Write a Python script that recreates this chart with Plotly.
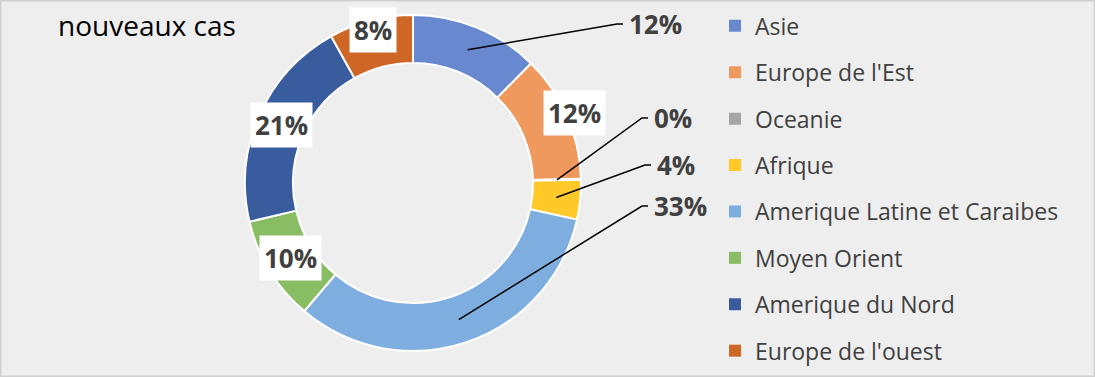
import math
import plotly.graph_objects as go

# ---- data ----
regions = ["Asie", "Europe de l'Est", "Oceanie", "Afrique",
           "Amerique Latine et Caraibes", "Moyen Orient",
           "Amerique du Nord", "Europe de l'ouest"]
shares = [12.4, 12.2, 0.1, 3.8, 32.7, 10.1, 20.6, 8.1]
title_text = "nouveaux cas"

# ---- style ----
colors = ["#6889CF", "#F0995E", "#A5A5A5", "#FFC929",
          "#7DAEDF", "#88BD63", "#395C9E", "#CE6726"]
W, H = 1095, 377
CX, CY, R_OUT, R_IN = 413, 183, 168, 120
label_color = "#404040"
# label placement style: ("in", radius factor) = white box on the ring,
# ("out", (text left px, text middle px)) = callout with leader line
label_style = [
    ("out", (628, 24)),
    ("in", 1.22),
    ("out", (653, 118)),
    ("out", (656, 165)),
    ("out", (653, 206)),
    ("in", 1.0),
    ("in", 1.0),
    ("in", 1.1),
]

fig = go.Figure()
fig.add_trace(go.Pie(
    labels=regions, values=shares, sort=False, direction="clockwise",
    rotation=0, hole=R_IN / R_OUT, textinfo="none", hoverinfo="label+percent",
    marker=dict(colors=colors, line=dict(color="white", width=2)),
    domain=dict(x=[(CX - R_OUT) / W, (CX + R_OUT) / W],
                y=[1 - (CY + R_OUT) / H, 1 - (CY - R_OUT) / H]),
    showlegend=False,
))

# legend entries (split over two legend boxes so the column is not squeezed)
for i, (name, c) in enumerate(zip(regions, colors)):
    fig.add_trace(go.Scatter(
        x=[None], y=[None], mode="markers", name=name, legendgroup=name,
        legend="legend" if i < 4 else "legend2",
        marker=dict(symbol="square", size=12, color=c),
    ))

# data labels computed from slice angles
total = sum(shares)
cum = 0.0
r_mid = (R_OUT + R_IN) / 2
annotations = []
shapes = [dict(type="rect", xref="paper", yref="paper", x0=0, y0=0, x1=1, y1=1,
               line=dict(color="#d0d0d0", width=3), fillcolor="rgba(0,0,0,0)")]
for v, (kind, param) in zip(shares, label_style):
    mid = (cum + v / 2) / total * 2 * math.pi
    cum += v
    pct = f"{int(v / total * 100 + 0.5)}%"
    if kind == "in":
        r = r_mid * param
        px = CX + r * math.sin(mid)
        py = CY - r * math.cos(mid)
        annotations.append(dict(
            x=px / W, y=1 - py / H, xref="paper", yref="paper",
            xanchor="center", yanchor="middle", text=f"<b>{pct}</b>",
            showarrow=False, bgcolor="white", borderpad=4,
            font=dict(family="Open Sans", size=26, color=label_color)))
    else:
        apx = CX + r_mid * math.sin(mid)
        apy = CY - r_mid * math.cos(mid)
        tx, ty = param
        path = (f"M {apx / W} {1 - apy / H} L {(tx - 11) / W} {1 - ty / H} "
                f"L {(tx - 5) / W} {1 - ty / H}")
        shapes.append(dict(type="path", xref="paper", yref="paper", path=path,
                           line=dict(color="black", width=1.5)))
        annotations.append(dict(
            x=tx / W, y=1 - ty / H, xref="paper", yref="paper",
            xanchor="left", yanchor="middle", text=f"<b>{pct}</b>",
            showarrow=False, borderpad=0,
            font=dict(family="Open Sans", size=26, color=label_color)))

annotations.append(dict(
    x=56 / W, y=1 - 25 / H, xref="paper", yref="paper", xanchor="left",
    yanchor="middle", text=title_text, showarrow=False,
    font=dict(family="Open Sans", size=28, color="black")))

legend_common = dict(xanchor="left", yanchor="top", bgcolor="rgba(0,0,0,0)",
                     tracegroupgap=13.5,
                     font=dict(family="Open Sans", size=23, color=label_color))
fig.update_layout(
    width=W, height=H, margin=dict(l=0, r=0, t=0, b=0),
    paper_bgcolor="#eeeeee", plot_bgcolor="rgba(0,0,0,0)",
    xaxis=dict(visible=False), yaxis=dict(visible=False),
    annotations=annotations, shapes=shapes,
    legend=dict(x=715 / W, y=1 - 4.4 / H, **legend_common),
    legend2=dict(x=715 / W, y=1 - 190 / H, **legend_common),
)

fig.write_html("out.html", config={"displayModeBar": False},
               post_script="document.body.style.margin='0';")
